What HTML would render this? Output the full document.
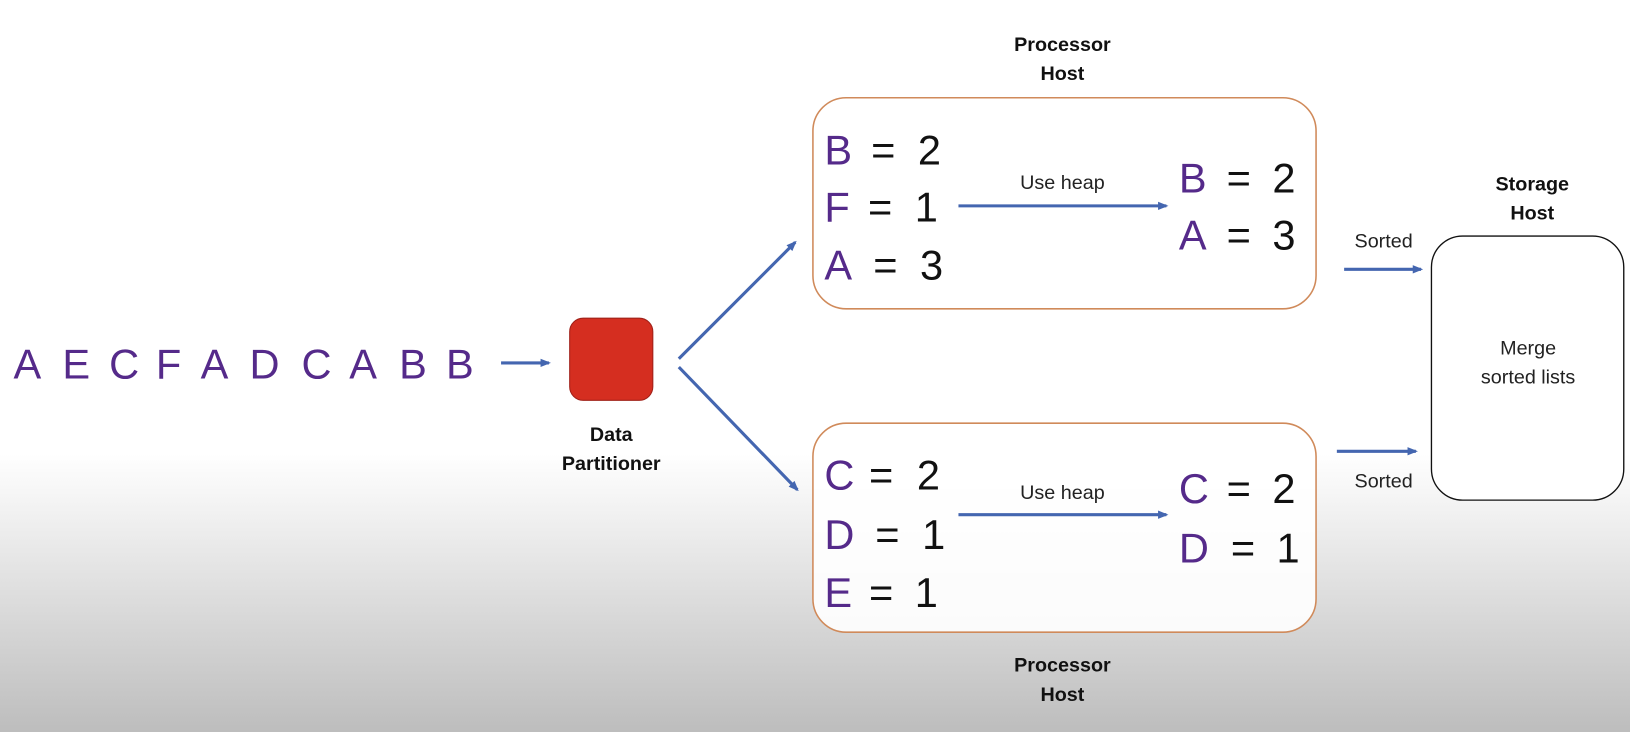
<!DOCTYPE html>
<html><head><meta charset="utf-8">
<style>
html,body{margin:0;padding:0;width:1630px;height:732px;overflow:hidden;}
svg{display:block;font-family:"Liberation Sans",sans-serif;}
.p{fill:#552a8a;font-size:40px;}
.k{fill:#111;font-size:40px;}
.b{font-weight:bold;font-size:19px;fill:#111;text-anchor:middle;}
.s{font-size:19px;fill:#222;text-anchor:middle;}
</style></head>
<body>
<svg width="1630" height="732" viewBox="0 0 1568 704" preserveAspectRatio="none">
<defs>
<linearGradient id="bg" x1="0" y1="0" x2="0" y2="1">
<stop offset="0" stop-color="#ffffff"/>
<stop offset="0.62" stop-color="#ffffff"/>
<stop offset="1" stop-color="#bdbdbd"/>
</linearGradient>
<marker id="ah" markerWidth="10" markerHeight="10" refX="8" refY="5" orient="auto" markerUnits="userSpaceOnUse">
<path d="M0,1 L10,5 L0,9 Z" fill="#4466b0"/>
</marker>
</defs>
<rect width="1568" height="704" fill="url(#bg)"/>

<g>
<text class="p" x="13" y="364">A</text><text class="p" x="60" y="364">E</text><text class="p" x="105" y="364">C</text>
<text class="p" x="150" y="364">F</text><text class="p" x="193" y="364">A</text><text class="p" x="240" y="364">D</text>
<text class="p" x="290" y="364">C</text><text class="p" x="336" y="364">A</text><text class="p" x="384" y="364">B</text>
<text class="p" x="429" y="364">B</text>
</g>
<line x1="482" y1="349" x2="528" y2="349" stroke="#4466b0" stroke-width="3" marker-end="url(#ah)"/>
<rect x="548" y="306" width="80" height="79" rx="13" fill="#d52e20" stroke="#a02018" stroke-width="1"/>
<text class="b" x="588" y="424">Data</text>
<text class="b" x="588" y="452">Partitioner</text>

<line x1="653" y1="345" x2="765" y2="233" stroke="#4466b0" stroke-width="3" marker-end="url(#ah)"/>
<line x1="653" y1="353" x2="767" y2="471" stroke="#4466b0" stroke-width="3" marker-end="url(#ah)"/>

<text class="b" x="1022" y="49">Processor</text>
<text class="b" x="1022" y="77">Host</text>
<rect x="782" y="94" width="484" height="203" rx="32" fill="#fff" stroke="#d08a5a" stroke-width="1.5"/>
<g>
<text class="p" x="793" y="158">B</text><text class="k" x="838" y="158">=</text><text class="k" x="883" y="158">2</text>
<text class="p" x="793" y="213">F</text><text class="k" x="835" y="213">=</text><text class="k" x="880" y="213">1</text>
<text class="p" x="793" y="269">A</text><text class="k" x="840" y="269">=</text><text class="k" x="885" y="269">3</text>
</g>
<text class="s" x="1022" y="182">Use heap</text>
<line x1="922" y1="198" x2="1122" y2="198" stroke="#4466b0" stroke-width="3" marker-end="url(#ah)"/>
<g>
<text class="p" x="1134" y="185">B</text><text class="k" x="1180" y="185">=</text><text class="k" x="1224" y="185">2</text>
<text class="p" x="1134" y="240">A</text><text class="k" x="1180" y="240">=</text><text class="k" x="1224" y="240">3</text>
</g>

<text class="b" x="1022" y="646">Processor</text>
<text class="b" x="1022" y="674">Host</text>
<rect x="782" y="407" width="484" height="201" rx="32" fill="#fff" fill-opacity="0.9" stroke="#d08a5a" stroke-width="1.5"/>
<g>
<text class="p" x="793" y="471">C</text><text class="k" x="836" y="471">=</text><text class="k" x="882" y="471">2</text>
<text class="p" x="793" y="528">D</text><text class="k" x="842" y="528">=</text><text class="k" x="887" y="528">1</text>
<text class="p" x="793" y="584">E</text><text class="k" x="836" y="584">=</text><text class="k" x="880" y="584">1</text>
</g>
<text class="s" x="1022" y="480">Use heap</text>
<line x1="922" y1="495" x2="1122" y2="495" stroke="#4466b0" stroke-width="3" marker-end="url(#ah)"/>
<g>
<text class="p" x="1134" y="484">C</text><text class="k" x="1180" y="484">=</text><text class="k" x="1224" y="484">2</text>
<text class="p" x="1134" y="541">D</text><text class="k" x="1184" y="541">=</text><text class="k" x="1228" y="541">1</text>
</g>

<text class="s" x="1331" y="238">Sorted</text>
<line x1="1293" y1="259" x2="1367" y2="259" stroke="#4466b0" stroke-width="3" marker-end="url(#ah)"/>
<text class="s" x="1331" y="469">Sorted</text>
<line x1="1286" y1="434" x2="1362" y2="434" stroke="#4466b0" stroke-width="3" marker-end="url(#ah)"/>

<text class="b" x="1474" y="183">Storage</text>
<text class="b" x="1474" y="211">Host</text>
<rect x="1377" y="227" width="185" height="254" rx="30" fill="#fff" stroke="#111" stroke-width="1.3"/>
<text class="s" x="1470" y="341">Merge</text>
<text class="s" x="1470" y="369">sorted lists</text>
</svg>
</body></html>
